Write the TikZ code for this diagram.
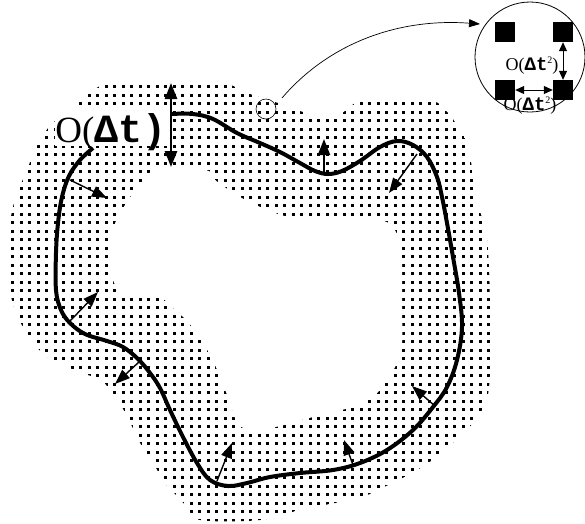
\documentclass[tikz,border=0pt]{standalone}
\usepackage{fontspec}
\setmainfont{Liberation Serif}
\newfontfamily\monob{Liberation Mono}
\usetikzlibrary{arrows.meta}
\tikzset{
  normal/.style={line width=1.4pt,-{Triangle[length=15pt,width=11pt]}},
  bignormal/.style={line width=2.2pt,-{Triangle[length=16pt,width=12pt]}},
  front/.style={line width=4pt},
  sq/.style={fill=black,minimum size=20pt,inner sep=0pt},
  insarrow/.style={line width=1pt,{Triangle[length=9pt,width=8pt]}-{Triangle[length=9pt,width=8pt]}},
  smalllab/.style={inner sep=0pt,anchor=base}
}
\newcommand{\smallO}{{\fontsize{18pt}{18pt}\selectfont O(}{\monob\bfseries\fontsize{19pt}{19pt}\selectfont Δt}{\fontsize{10pt}{10pt}\selectfont\raisebox{7pt}{2}}{\fontsize{18pt}{18pt}\selectfont )}}
\begin{document}
\begin{tikzpicture}[x=1pt,y=-1pt]
\useasboundingbox (0,0) rectangle (585,523);
% dotted band
\begin{scope}
\clip plot[smooth cycle,tension=0.6] coordinates {
(110,83) (165,81) (222,83) (250,94) (275,102) (300,111) (322,118) (338,116) (350,107) (365,101)
(430,101) (446,111) (456,124) (468,147) (477,200) (487,240) (490,310) (489,387) (479,415)
(461,435) (434,459) (408,475) (388,485) (370,494) (340,502) (303,509) (260,520) (200,520)
(188,508) (176,495) (165,483) (152,461) (139,441) (126,414) (112,392) (99,379) (79,372)
(46,356) (29,336) (18,317) (10,290) (9,247) (11,217) (17,193) (25,175) (35,150) (44,134)
(53,123) (77,103) (90,93)};
\foreach \i in {0,...,57}{\foreach \j in {0,...,52}{
  \fill ({4.2+8.5*\i-1.4},{78.2+8.5*\j-1.4}) rectangle ++(2.8,2.8);}}
\end{scope}
\fill[white] plot[smooth cycle,tension=0.6] coordinates {
(156,170) (205,170) (214,179) (226,188) (240,197) (258,206) (278,214) (300,219) (340,220)
(378,220) (392,226) (399,241) (402,262) (402,300) (402,345) (397,363) (387,380) (375,395)
(358,405) (330,413) (305,419) (280,426) (256,430) (240,426) (232,410) (226,392) (219,374)
(210,355) (200,338) (188,322) (174,309) (160,298) (130,297) (118,290) (111,272) (110,245)
(114,226) (122,210) (131,196) (141,184) (149,176)};
% label
\node[fill=white,inner xsep=0pt,inner ysep=0pt,text height=34pt,text depth=4pt,anchor=base] (lab) at (111,142)
  {{\fontsize{37pt}{40pt}\selectfont O(}{\monob\bfseries\fontsize{40pt}{40pt}\selectfont Δt)}};
% front curve
\draw[front] plot[smooth,tension=0.6] coordinates {
(171,114) (193,114) (213,119) (237,133) (260,143) (280,152) (300,163) (315,171) (328,174)
(342,171) (360,161) (380,147) (397,141) (413,145) (427,157) (437,177) (442,197) (447,223)
(453,257) (459,293) (462,327) (457,360) (447,387) (433,407) (413,430) (387,450) (360,463)
(333,470) (300,473) (270,477) (247,483) (228,486) (210,480) (197,463) (183,437) (170,410)
(160,388) (150,373) (138,359) (123,347) (107,341) (85,334) (70,323) (61,310) (56,290)
(56,253) (58,223) (62,197) (69,176) (80,160) (93,148)};
% normal arrows
\draw[normal] (70,180) -- (107,198);
\draw[normal] (70,321) -- (98,292);
\draw[normal] (139,362) -- (115,384);
\draw[normal] (217,481) -- (232,443);
\draw[normal] (353,465) -- (344,440);
\draw[normal] (435,406) -- (412,386);
\draw[normal] (417,154) -- (389,193);
\draw[bignormal] (324,173) -- (324,139);
\coordinate (vt) at (171,83);
\coordinate (vb) at (171,167);
\draw[line width=2.5pt,{Triangle[length=16pt,width=12pt]}-{Triangle[length=16pt,width=12pt]}] (vt) -- (vb);
% zoom marker and inset
\node[circle,draw,line width=0.6pt,minimum size=20pt,inner sep=0pt] (zoomc) at (266,109) {};
\node[circle,draw,line width=0.8pt,minimum size=110pt,inner sep=0pt] (inset) at (530,57) {};
\coordinate (zs) at (282,98);
\coordinate (ze) at (480,24);
\draw[line width=0.7pt,-{Triangle[length=11pt,width=8pt]}] (zs) .. controls (330,42) and (400,18) .. (ze);
\node[sq] (s1) at (505,32) {};
\node[sq] (s2) at (563,32) {};
\node[sq] (s3) at (505,90) {};
\node[sq] (s4) at (563,90) {};
\draw[insarrow] (s2.south) -- (s4.north);
\draw[insarrow] (s3.east) -- (s4.west);
\node[smalllab] (l1) at (532,70) {\smallO};
\node[smalllab] (l2) at (530,110) {\smallO};
\end{tikzpicture}
\end{document}
